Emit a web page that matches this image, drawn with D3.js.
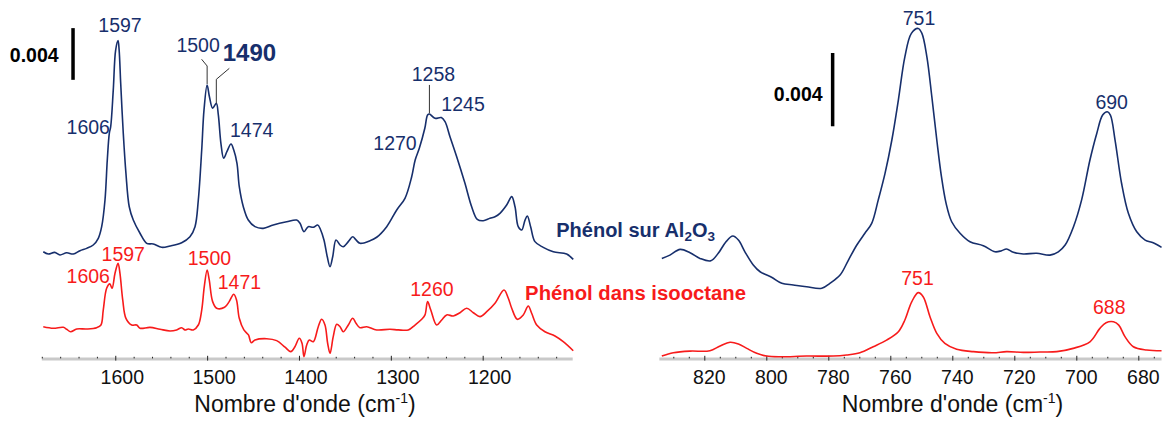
<!DOCTYPE html>
<html><head><meta charset="utf-8">
<script src="https://cdn.jsdelivr.net/npm/d3@7"></script>
<style>
html,body{margin:0;padding:0;background:#fff;}
svg{display:block;font-family:"Liberation Sans",Arial,Helvetica,sans-serif;}
</style></head><body>
<svg id="chart" width="1162" height="422"></svg>
<script>
// IR difference spectra of phenol, [wavenumber (cm-1), absorbance]
// 1700-1100 cm-1 region, phenol adsorbed on alumina
const aluminaHigh = [
  [1678.4,0.0003],[1672.9,0.00012],[1666,0.00025],[1660.2,0.00005],[1652.9,0.00022],[1645.7,0.00012],
  [1638.4,0.00038],[1631.1,0.00056],[1624.0,0.00082],[1618.5,0.00134],[1614.8,0.00224],[1611.2,0.0043],
  [1608.7,0.0074],[1606.5,0.00946],[1605.0,0.00997],[1602.2,0.0128],[1599.6,0.0159],[1597,0.01663],
  [1595.8,0.0159],[1594.1,0.01333],[1591.3,0.00946],[1588.4,0.00637],[1584.8,0.00378],[1580.4,0.00275],
  [1573.1,0.00173],[1565.8,0.00095],[1558.6,0.0009],[1549.5,0.00064],[1540.4,0.00074],[1527.7,0.001],
  [1518.7,0.00146],[1513.2,0.00224],[1509.6,0.0043],[1505.9,0.00817],[1503.4,0.01127],[1500,0.0132],
  [1497.5,0.01229],[1494,0.0114],[1490,0.01178],[1487.8,0.01088],[1485,0.00869],[1482,0.00753],
  [1478.5,0.00804],[1474,0.00863],[1471,0.00817],[1467.5,0.00714],[1465.0,0.00533],[1460.6,0.00378],
  [1455.2,0.00275],[1447.9,0.00224],[1438.9,0.00211],[1428.0,0.00237],[1413.4,0.00262],[1402.5,0.00275],
  [1398.9,0.0025],[1394.6,0.00185],[1389.9,0.00224],[1384.4,0.00219],[1379.6,0.00237],[1376.4,0.00198],
  [1372.8,0.00121],[1369.2,-0.00009],[1366.2,-0.00086],[1363.3,-0.00009],[1359.7,0.00121],[1355.3,0.00082],
  [1351.8,0.00069],[1346.3,0.00108],[1341.5,0.00146],[1337.9,0.00121],[1333.6,0.00095],[1322.7,0.00115],
  [1315.4,0.00142],[1304.5,0.00224],[1293.6,0.00353],[1284.6,0.00443],[1277.3,0.0061],[1273.5,0.0074],
  [1269,0.0083],[1263,0.00985],[1260,0.01088],[1258,0.01096],[1252,0.01062],[1245,0.01068],
  [1241.0,0.01036],[1235.6,0.0092],[1228.3,0.00765],[1219.3,0.00559],[1212.0,0.00378],[1205.9,0.00281],
  [1199.4,0.0027],[1192.1,0.00289],[1186.6,0.00301],[1181.2,0.00327],[1173.9,0.00391],[1168.4,0.00456],
  [1164.8,0.00378],[1161.3,0.00224],[1157.5,0.00198],[1153.9,0.00275],[1151.4,0.00306],[1147.8,0.00224],
  [1143.1,0.00108],[1134.1,0.00064],[1123.1,0.0003],[1108.6,0.00012],[1101.4,-0.00029]
];
// 1700-1100 cm-1 region, phenol in isooctane
const isooctaneHigh = [
  [1678.4,0.0002],[1667.5,0.00008],[1656.6,0.00015],[1652.9,0],[1648.6,-0.00019],[1642.0,0.00002],
  [1631.1,0.00002],[1620.3,0.00012],[1615.6,0.00033],[1613.1,0.00149],[1609.4,0.00317],[1606,0.00351],
  [1603.5,0.00317],[1600.3,0.00433],[1597,0.00511],[1594.9,0.00433],[1591.9,0.00227],[1588.4,0.00085],
  [1582.1,0.00033],[1576.7,0.00033],[1573.1,0.00008],[1562.2,0.00015],[1551.3,0],[1540.4,-0.00013],
  [1533.2,-0.00005],[1527.7,0.00012],[1524.1,-0.00005],[1520.5,0.00002],[1515.1,-0.00005],[1509.6,0.00033],
  [1505.9,0.00149],[1503.1,0.0033],[1500,0.00459],[1497.7,0.00382],[1494.0,0.00214],[1489.6,0.00163],
  [1481,0.0017],[1476,0.00214],[1471,0.00271],[1468,0.00227],[1465,0.00085],[1460,-0.00005],
  [1455,-0.00044],[1452,-0.00104],[1447.9,-0.00083],[1435.2,-0.00073],[1424.3,-0.00088],[1415.2,-0.00139],
  [1409.0,-0.00173],[1404.4,-0.00135],[1399.7,-0.0007],[1396.7,-0.00108],[1394.6,-0.00212],[1391.6,-0.00122],
  [1388.8,-0.00083],[1384.4,-0.00096],[1379.0,0.0002],[1375.3,0.00077],[1371.7,0.00033],[1368.8,-0.00108],
  [1366.2,-0.00186],[1362.7,-0.00057],[1358.9,0.00039],[1355.3,0.0002],[1351.8,-0.00019],[1346.3,0.00033],
  [1341.5,0.00085],[1337.9,0.00046],[1333.6,0.00012],[1326.3,0.0002],[1315.4,-0.00005],[1300.9,0],
  [1291.9,-0.00005],[1281.0,-0.00005],[1273.7,0.00033],[1266.4,0.00077],[1262.8,0.00111],[1260,0.00214],
  [1256.5,0.00149],[1250.1,0.00033],[1244.6,0.00072],[1239.2,0.00111],[1232.0,0.00103],[1224.7,0.00128],
  [1217.4,0.00163],[1210.2,0.00128],[1202.9,0.00098],[1195.6,0.00136],[1186.6,0.00201],[1176.8,0.00304],
  [1172.1,0.0024],[1168.4,0.00163],[1162.3,0.00077],[1155.8,0.00111],[1150.4,0.0018],[1146.7,0.00124],
  [1141.2,0.00033],[1132.2,-0.00019],[1121.3,-0.00052],[1112.3,-0.00096],[1101.4,-0.00166]
];
// 850-670 cm-1 region, phenol adsorbed on alumina
const aluminaLow = [
  [833.7,-0.00021],[831.1,-0.00003],[827.8,0.00028],[824.6,0.0001],[821.4,-0.00021],[817.9,-0.00034],
  [815.5,0.00007],[813.0,0.0007],[810.8,0.00101],[809.0,0.00079],[806.9,0.00015],[804.2,-0.00057],
  [802.0,-0.00094],[798.3,-0.00124],[795.0,-0.00157],[791.3,-0.00166],[787.0,-0.00176],[782.1,-0.00184],
  [779.5,-0.00157],[776.2,-0.00112],[773.5,-0.0003],[770.8,0.00052],[768.2,0.00116],[766.0,0.0017],
  [763.9,0.00297],[761.7,0.00443],[759.5,0.00625],[757.4,0.00843],[755.3,0.01079],[753.2,0.01207],
  [751,0.01234],[749.8,0.01207],[748.2,0.01079],[746.6,0.00861],[745,0.00625],[743.5,0.00425],
  [742,0.00279],[740.2,0.00179],[737.5,0.00116],[734.3,0.0007],[730.0,0.00048],[726.2,0.00015],
  [724.1,0.00021],[722.5,0.0003],[720.3,0.00012],[717.1,0.00003],[712.8,0.00007],[708.5,-0.00003],
  [705.8,0.00015],[703.6,0.00052],[700.9,0.00152],[698.3,0.00297],[695.6,0.00516],[693.4,0.00661],
  [691.5,0.00761],[690,0.00779],[689.0,0.00761],[687.5,0.00625],[685.4,0.00389],[683.2,0.00225],
  [680.5,0.00124],[677.8,0.00079],[675.2,0.00064],[672.5,0.00039]
];
// 850-670 cm-1 region, phenol in isooctane
const isooctaneLow = [
  [833.7,-0.00004],[830.0,0.00014],[824.6,0.00023],[818.2,0.00025],[814.9,0.00051],[811.7,0.00071],
  [809.0,0.00062],[806.3,0.00038],[803.1,0.00011],[799.9,-0.00004],[795.6,-0.00008],[787.0,-0.00004],
  [778.4,-0.00004],[774.1,0.00002],[769.8,0.00014],[765.5,0.00047],[761.2,0.00083],[757.4,0.00129],
  [755.3,0.00193],[753.1,0.00292],[751,0.00342],[749.4,0.0032],[747.2,0.00211],[745.0,0.0012],
  [742.4,0.00065],[738.6,0.00033],[733.2,0.0002],[726.8,0.00014],[722.5,0.0002],[717.1,0.00016],
  [711.7,0.00018],[706.3,0.0002],[701.0,0.00038],[695.6,0.00074],[692.4,0.00147],[690.4,0.00178],
  [688,0.00183],[686.3,0.00165],[684.3,0.00102],[681.6,0.00047],[677.3,0.00029],[672.5,0.00025]
];

const ticksHigh = [1600, 1500, 1400, 1300, 1200];
const ticksLow = [820, 800, 780, 760, 740, 720, 700, 680];

// Band assignments written next to the peaks
const bandsAluminaHigh = [1606, 1597, 1500, 1490, 1474, 1270, 1258, 1245];
const bandsIsooctaneHigh = [1606, 1597, 1500, 1471, 1260];
const bandsAluminaLow = [751, 690];
const bandsIsooctaneLow = [751, 688];

const axisTitle = "Nombre d'onde (cm";
const scaleText = "0.004";
const scaleValue = 0.004;

const NAVY = "#172f6c";
const RED = "#f71b1b";

const svg = d3.select("#chart");
const AXIS_Y = 359;

// Panels: x scales in wavenumber (reversed), y scales in absorbance
const panels = [
  {
    x: d3.scaleLinear().domain([1680, 1102]).range([41.8, 572.7]),
    y: d3.scaleLinear().domain([0, 0.028]).range([AXIS_Y, AXIS_Y - 0.028 * 12925]),
    minorStep: 20, majorTicks: ticksHigh, labelDx: 6.5, titleX: 305,
    offsets: { al: 0.008, iso: 0.0023 },
    al: aluminaHigh, iso: isooctaneHigh,
    bar: { wn: 1646, from: 0.0216, textDx: -14.4, textY: 61.7 }
  },
  {
    x: d3.scaleLinear().domain([834.5, 672.5]).range([659.35, 1161.55]),
    y: d3.scaleLinear().domain([0, 0.02]).range([AXIS_Y, AXIS_Y - 0.02 * 18325]),
    minorStep: 5, majorTicks: ticksLow, labelDx: 4.5, titleX: 952.5,
    offsets: { al: 0.0057, iso: 0.0002 },
    al: aluminaLow, iso: isooctaneLow,
    bar: { wn: 778.6, from: 0.0127, textDx: -10, textY: 100.7 }
  }
];

panels.forEach(p => {
  const [d0, d1] = p.x.domain();
  const minor = d3.range(Math.ceil(d1 / p.minorStep) * p.minorStep, d0 + 0.001, p.minorStep)
    .filter(v => !p.majorTicks.includes(v));

  // axis band
  const g = svg.append("g").attr("transform", `translate(0,${AXIS_Y})`);
  g.append("line")
    .attr("x1", p.x(d0)).attr("x2", p.x(d1)).attr("y1", 0).attr("y2", 0)
    .attr("stroke", "#c9c9c9").attr("stroke-width", 3.2);

  const minorAxis = d3.axisBottom(p.x).tickValues(minor).tickSizeInner(-2.2).tickSizeOuter(0).tickFormat("");
  const gm = g.append("g").call(minorAxis);
  gm.select(".domain").remove();
  gm.selectAll(".tick line").attr("stroke", "#222").attr("stroke-width", 1).attr("y1", -0.6);

  const majorAxis = d3.axisBottom(p.x).tickValues(p.majorTicks).tickSizeInner(-3.2).tickSizeOuter(0).tickFormat(d3.format("d"));
  const gM = g.append("g").call(majorAxis);
  gM.select(".domain").remove();
  gM.selectAll(".tick line").attr("stroke", "#222").attr("stroke-width", 1).attr("y1", 1.6);
  gM.selectAll(".tick text")
    .attr("y", 25).attr("dy", null).attr("dx", p.labelDx)
    .attr("font-size", 19.5).attr("fill", "#111")
    .attr("font-family", '"Liberation Sans", Arial, sans-serif');

  // axis title
  const t = svg.append("text")
    .attr("x", p.titleX).attr("y", 411.5).attr("text-anchor", "middle")
    .attr("font-size", 23).attr("fill", "#111");
  t.append("tspan").text(axisTitle);
  t.append("tspan").text("-1").attr("font-size", 14).attr("dy", -9);
  t.append("tspan").text(")").attr("dy", 9);

  // spectra
  const line = off => d3.line()
    .x(d => p.x(d[0]))
    .y(d => p.y(d[1] + off))
    .curve(d3.curveCatmullRom.alpha(0.5));

  svg.append("path").datum(p.al).attr("d", line(p.offsets.al))
    .attr("fill", "none").attr("stroke", NAVY).attr("stroke-width", 1.6).attr("stroke-linejoin", "round");
  svg.append("path").datum(p.iso).attr("d", line(p.offsets.iso))
    .attr("fill", "none").attr("stroke", RED).attr("stroke-width", 1.6).attr("stroke-linejoin", "round");

  // absorbance scale bar
  const bx = p.x(p.bar.wn);
  svg.append("line")
    .attr("x1", bx).attr("x2", bx)
    .attr("y1", p.y(p.bar.from)).attr("y2", p.y(p.bar.from + scaleValue))
    .attr("stroke", "#000").attr("stroke-width", 3.5);
  svg.append("text").text(scaleText)
    .attr("x", bx + p.bar.textDx).attr("y", p.bar.textY)
    .attr("text-anchor", "end").attr("font-weight", "bold")
    .attr("font-size", 19.5).attr("fill", "#000");
});

// Peak labels: value, text anchor and pixel offset from the peak position
function peakY(panel, series, wn) {
  const data = panel[series];
  const nearest = data.reduce((a, b) => Math.abs(b[0] - wn) < Math.abs(a[0] - wn) ? b : a);
  return panel.y(nearest[1] + panel.offsets[series]);
}

const labelLayout = [
  // left panel, alumina
  { p: 0, s: "al", wn: bandsAluminaHigh[0], anchor: "end", dx: 0.2, dy: 1 },
  { p: 0, s: "al", wn: bandsAluminaHigh[1], anchor: "middle", dx: 2, dy: -9 },
  { p: 0, s: "al", wn: bandsAluminaHigh[2], anchor: "middle", dx: -9, dy: -33.3, leader: [[-5.5, -25.7], [0, -19], [0, -1]] },
  { p: 0, s: "al", wn: bandsAluminaHigh[3], anchor: "start", dx: 6.4, dy: -42.6, bold: true, size: 24, leader: [[13, -35], [0, -24], [0, 0]] },
  { p: 0, s: "al", wn: bandsAluminaHigh[4], anchor: "start", dx: -1, dy: -6.8 },
  { p: 0, s: "al", wn: bandsAluminaHigh[5], anchor: "end", dx: -1.7, dy: 1.5 },
  { p: 0, s: "al", wn: bandsAluminaHigh[6], anchor: "middle", dx: 4, dy: -33.3, leader: [[0, -29], [0, -0.7]] },
  { p: 0, s: "al", wn: bandsAluminaHigh[7], anchor: "start", dx: 0, dy: -6.6 },
  // left panel, isooctane
  { p: 0, s: "iso", wn: bandsIsooctaneHigh[0], anchor: "end", dx: 0.2, dy: -0.7 },
  { p: 0, s: "iso", wn: bandsIsooctaneHigh[1], anchor: "middle", dx: 5.2, dy: -2.6 },
  { p: 0, s: "iso", wn: bandsIsooctaneHigh[2], anchor: "middle", dx: 2.3, dy: -5 },
  { p: 0, s: "iso", wn: bandsIsooctaneHigh[3], anchor: "middle", dx: 5.7, dy: -5 },
  { p: 0, s: "iso", wn: bandsIsooctaneHigh[4], anchor: "middle", dx: 4.4, dy: -6 },
  // right panel
  { p: 1, s: "al", wn: bandsAluminaLow[0], anchor: "middle", dx: 0.8, dy: -3.3 },
  { p: 1, s: "al", wn: bandsAluminaLow[1], anchor: "middle", dx: 4.4, dy: -2.4 },
  { p: 1, s: "iso", wn: bandsIsooctaneLow[0], anchor: "middle", dx: -0.7, dy: -7.7 },
  { p: 1, s: "iso", wn: bandsIsooctaneLow[1], anchor: "middle", dx: -4.2, dy: -7.7 }
];

labelLayout.forEach(l => {
  const panel = panels[l.p];
  const px = panel.x(l.wn);
  const py = peakY(panel, l.s, l.wn);
  const color = l.s === "al" ? NAVY : RED;
  svg.append("text").text(l.wn)
    .attr("x", px + l.dx).attr("y", py + l.dy)
    .attr("text-anchor", l.anchor)
    .attr("font-size", l.size || 19.5)
    .attr("font-weight", l.bold ? "bold" : "normal")
    .attr("fill", color);
  if (l.leader) {
    svg.append("path")
      .attr("d", d3.line()(l.leader.map(([dx, dy]) => [px + dx, py + dy])))
      .attr("fill", "none").attr("stroke", "#333").attr("stroke-width", 1);
  }
});

// Series names
const legendAl = svg.append("text")
  .attr("x", 715).attr("y", 237).attr("text-anchor", "end")
  .attr("font-size", 20).attr("font-weight", "bold").attr("fill", NAVY);
legendAl.append("tspan").text("Phénol sur Al");
legendAl.append("tspan").text("2").attr("font-size", 13.5).attr("dy", 4);
legendAl.append("tspan").text("O").attr("dy", -4);
legendAl.append("tspan").text("3").attr("font-size", 13.5).attr("dy", 4);

svg.append("text").text("Phénol dans isooctane")
  .attr("x", 746).attr("y", 300).attr("text-anchor", "end")
  .attr("font-size", 20.3).attr("font-weight", "bold").attr("fill", RED);
</script>
</body></html>
